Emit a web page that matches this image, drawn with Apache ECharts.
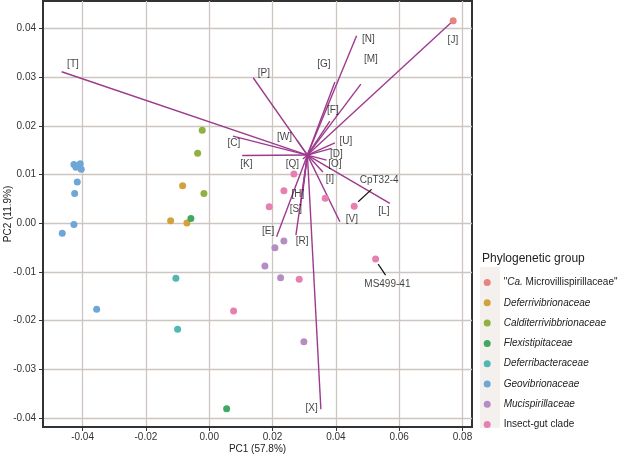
<!DOCTYPE html>
<html>
<head>
<meta charset="utf-8">
<script src="https://cdn.jsdelivr.net/npm/echarts@6.0.0/dist/echarts.min.js"></script>
<style>
  html, body { margin: 0; padding: 0; background: #fff; }
  #chart-pca { width: 622px; height: 456px; }
</style>
</head>
<body>
<div id="chart-pca"></div>
<script>
// tick labels
var xTicks = [-0.04, -0.02, 0.0, 0.02, 0.04, 0.06, 0.08];
var yTicks = [-0.04, -0.03, -0.02, -0.01, 0.0, 0.01, 0.02, 0.03, 0.04];

// samples (PC1, PC2) by group
var groupNames = [
  '"Ca. Microvillispirillaceae"', "Deferrivibrionaceae", "Calditerrivibbrionaceae",
  "Flexistipitaceae", "Deferribacteraceae", "Geovibrionaceae", "Mucispirillaceae", "Insect-gut clade"
];
var groupColors = ["#e8847e", "#d3a23c", "#8fb140", "#41a862", "#50b8b0", "#6ea6d6", "#b48dc4", "#e780b0"];

var microvillispirillaceae = [[0.07705, 0.04154]];
var deferrivibrionaceae = [[-0.0084, 0.0077], [-0.01219, 0.00051], [-0.00704, 0.00004]];
var calditerrivibrionaceae = [[-0.00221, 0.01906], [-0.00366, 0.01434], [-0.00167, 0.00613]];
var flexistipitaceae = [[-0.00578, 0.001], [0.0055, -0.03805]];
var deferribacteraceae = [[-0.01052, -0.0113], [-0.00998, -0.02176]];
var geovibrionaceae = [
  [-0.04273, 0.01208], [-0.0421, 0.01147], [-0.04137, 0.01173], [-0.04074, 0.01221],
  [-0.04042, 0.01106], [-0.04168, 0.00845], [-0.0425, 0.00613], [-0.04273, -0.00023],
  [-0.04642, -0.00207], [-0.03556, -0.01766]
];
var mucispirillaceae = [[0.02359, -0.00365], [0.02075, -0.00503], [0.01759, -0.00878], [0.02255, -0.01118], [0.0299, -0.02431]];
var insectGut = [
  [0.02675, 0.01009], [0.02359, 0.00667], [0.01895, 0.00338], [0.03663, 0.00511],
  [0.04579, 0.00347], [0.02842, -0.01151], [0.0077, -0.01801], [0.05255, -0.00734]
];
var groupData = [microvillispirillaceae, deferrivibrionaceae, calditerrivibrionaceae,
  flexistipitaceae, deferribacteraceae, geovibrionaceae, mucispirillaceae, insectGut];

// biplot vectors
var vecOrigin = [0.03101, 0.01399];
var vecNames = ["T", "J", "N", "P", "M", "G", "F", "W", "C", "K", "Q", "U", "D", "O", "I", "H", "S", "L", "V", "E", "R", "X"];
var vecEnds = [
  [-0.04661, 0.03108], [0.07705, 0.04154], [0.04655, 0.03846], [0.01389, 0.02985],
  [0.0479, 0.02855], [0.0397, 0.02896], [0.03811, 0.02096], [0.02769, 0.01707],
  [0.00748, 0.01789], [0.01042, 0.01389], [0.02959, 0.01317], [0.03969, 0.01651],
  [0.03865, 0.01536], [0.03707, 0.01296], [0.0359, 0.0105], [0.02959, 0.0066],
  [0.0288, 0.00353], [0.05706, 0.00408], [0.04127, 0.00031], [0.02128, -0.00277],
  [0.02738, -0.00242], [0.03527, -0.03817]
];
var vecLabelPos = [
  [-0.04304, 0.03266], [0.07696, 0.03758], [0.05029, 0.03778], [0.01727, 0.03081],
  [0.05106, 0.03368], [0.03622, 0.03266], [0.03906, 0.02322], [0.02375, 0.01768],
  [0.0078, 0.01635], [0.01175, 0.01214], [0.02627, 0.01214], [0.04317, 0.01676],
  [0.04017, 0.01409], [0.03969, 0.01204], [0.03811, 0.00907], [0.02801, 0.00599],
  [0.02738, 0.00291], [0.05517, 0.0025], [0.04506, 0.00086], [0.01863, -0.00154],
  [0.02937, -0.00359], [0.03234, -0.03797]
];

// named samples
var sampleNames = ["CpT32-4", "MS499-41"];
var sampleLabelPos = [[0.05368, 0.00886], [0.05627, -0.01251]];
var sampleLeaders = [
  [[0.04705, 0.00441], [0.05128, 0.00695]],
  [[0.05337, -0.00837], [0.0557, -0.01063]]
];

var FONT = "'Liberation Sans', Arial, Helvetica, sans-serif";

var chart = echarts.init(document.getElementById("chart-pca"), null, { renderer: "canvas" });

var series = [];
series.push({
  type: "lines",
  coordinateSystem: "cartesian2d",
  silent: true,
  z: 2,
  lineStyle: { color: "#9d3a8e", width: 1.4, opacity: 1 },
  data: vecEnds.map(function (e) { return { coords: [vecOrigin, e] }; })
});
series.push({
  type: "lines",
  coordinateSystem: "cartesian2d",
  silent: true,
  z: 2,
  lineStyle: { color: "#111", width: 1.2, opacity: 1 },
  data: sampleLeaders.map(function (c) { return { coords: c }; })
});
groupData.forEach(function (d, i) {
  series.push({
    name: groupNames[i],
    type: "scatter",
    symbolSize: 7,
    z: 3,
    itemStyle: { color: groupColors[i], opacity: 1 },
    data: d
  });
});
series.push({
  type: "scatter",
  symbolSize: 2,
  silent: true,
  z: 4,
  itemStyle: { color: "rgba(0,0,0,0)" },
  label: {
    show: true, position: "inside", color: "#111", fontSize: 10, fontFamily: FONT,
    formatter: function (p) { return "[" + p.value[2] + "]"; }
  },
  data: vecLabelPos.map(function (p, i) { return [p[0], p[1], vecNames[i]]; })
});
series.push({
  type: "scatter",
  symbolSize: 2,
  silent: true,
  z: 4,
  itemStyle: { color: "rgba(0,0,0,0)" },
  label: {
    show: true, position: "inside", color: "#111", fontSize: 10, fontFamily: FONT,
    formatter: function (p) { return p.value[2]; }
  },
  data: sampleLabelPos.map(function (p, i) { return [p[0], p[1], sampleNames[i]]; })
});

chart.setOption({
  animation: false,
  title: {
    text: "Phylogenetic group",
    left: 477,
    top: 248,
    textStyle: { fontSize: 12, fontWeight: "normal", color: "#222", fontFamily: FONT }
  },
  graphic: [{
    type: "rect",
    z: 0,
    shape: { x: 480, y: 267, width: 20, height: 161 },
    style: { fill: "#f4f0ee" }
  }],
  legend: {
    orient: "vertical",
    left: 478.7,
    top: 271.5,
    itemWidth: 23,
    itemHeight: 7,
    itemGap: 8.3,
    icon: "circle",
    data: groupNames,
    formatter: function (name) {
      if (name.indexOf("Ca.") >= 0) return '"{i|Ca.} Microvillispirillaceae"';
      if (name === "Insect-gut clade") return name;
      return "{i|" + name + "}";
    },
    textStyle: {
      fontSize: 10, color: "#222", fontFamily: FONT, lineHeight: 12,
      rich: { i: { fontStyle: "italic", fontSize: 10, fontFamily: FONT, color: "#222", lineHeight: 12 } }
    }
  },
  grid: {
    left: 43, right: 150, top: 1, bottom: 29,
    outerBoundsMode: "none",
    show: true, borderColor: "#333", borderWidth: 2, backgroundColor: "#fff"
  },
  xAxis: {
    type: "value",
    min: -0.0525,
    max: 0.083,
    name: "PC1 (57.8%)",
    nameLocation: "middle",
    nameGap: 17,
    nameMoveOverlap: false,
    nameTextStyle: { fontSize: 10, color: "#222", fontFamily: FONT },
    axisLine: { show: true, onZero: false, lineStyle: { color: "#333", width: 2 } },
    axisTick: { show: true, length: 4, customValues: xTicks, lineStyle: { color: "#333" } },
    axisLabel: {
      customValues: xTicks, margin: 5, fontSize: 10, color: "#333", fontFamily: FONT,
      formatter: function (v) { return v.toFixed(2); }
    },
    splitLine: { show: true, lineStyle: { color: "#cdc5c0", width: 1.3 } }
  },
  yAxis: {
    type: "value",
    min: -0.0418,
    max: 0.0456,
    name: "PC2 (11.9%)",
    nameLocation: "middle",
    nameGap: 30,
    nameMoveOverlap: false,
    nameTextStyle: { fontSize: 10, color: "#222", fontFamily: FONT },
    axisLine: { show: true, onZero: false, lineStyle: { color: "#333", width: 2 } },
    axisTick: { show: true, length: 4, customValues: yTicks, lineStyle: { color: "#333" } },
    axisLabel: {
      customValues: yTicks, margin: 7, fontSize: 10, color: "#333", fontFamily: FONT,
      formatter: function (v) { return v.toFixed(2); }
    },
    splitLine: { show: true, lineStyle: { color: "#cdc5c0", width: 1.3 } }
  },
  series: series
});
</script>
</body>
</html>
